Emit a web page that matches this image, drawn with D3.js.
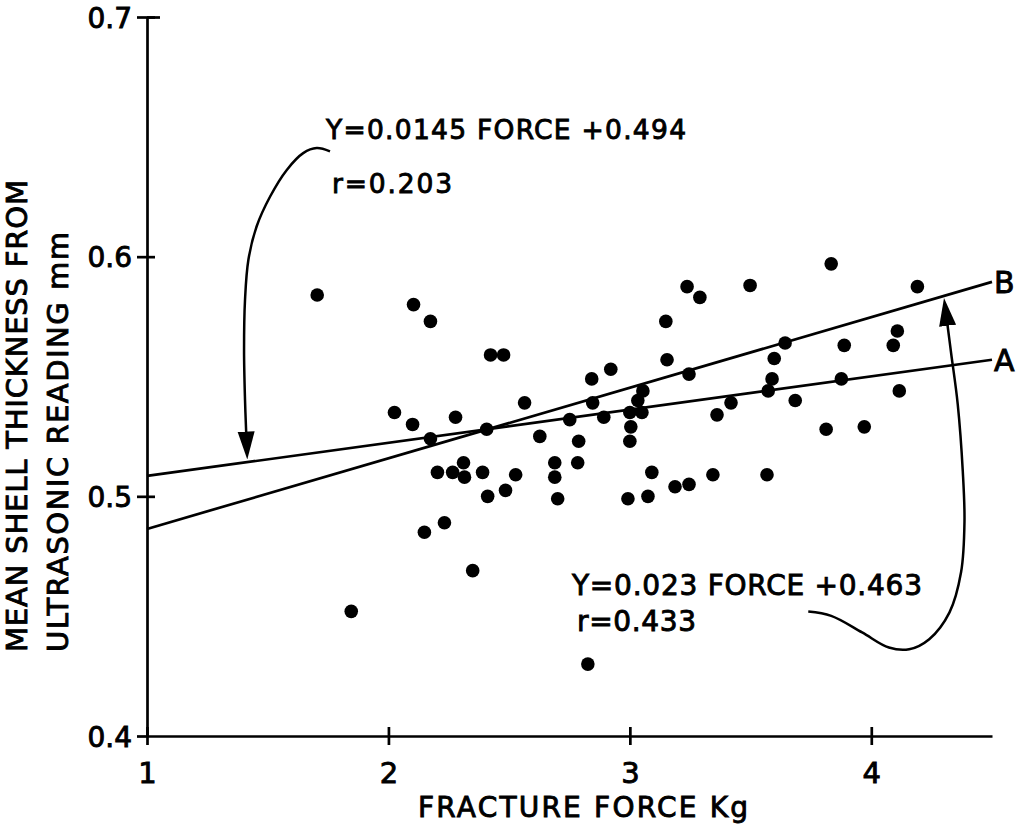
<!DOCTYPE html>
<html>
<head>
<meta charset="utf-8">
<script src="https://cdn.jsdelivr.net/npm/d3@7"></script>
<style>
  html, body { margin: 0; padding: 0; background: #fff; }
  svg { display: block; font-family: "DejaVu Sans", sans-serif; }
  .axis path, .axis line { stroke: #000; stroke-width: 2.7; }
  .axis text { fill: #000; stroke: #000; stroke-width: 0.9; font-family: "DejaVu Sans", sans-serif; }
  .fit { stroke: #000; stroke-width: 2.7; fill: none; }
  .arrow { stroke: #000; stroke-width: 2.5; fill: none; }
  .note { fill: #000; stroke: #000; stroke-width: 0.9; }
</style>
</head>
<body>
<div id="chart"></div>
<script>
// data
const xTicks = [1, 2, 3, 4];
const yTicks = [0.4, 0.5, 0.6, 0.7];

const force = [
  1.705, 2.104, 2.174, 2.423, 2.477, 2.025, 2.100, 2.278, 2.174, 2.407,
  2.311, 2.203, 2.266, 2.315, 2.390, 2.527, 2.485, 2.411, 2.232, 2.149,
  2.349, 1.846, 3.237, 3.290, 3.149, 3.154, 2.921, 2.842, 3.245, 3.054,
  3.033, 2.564, 2.846, 3.000, 3.050, 2.751, 2.892, 3.361, 3.004, 2.627,
  2.788, 3.000, 2.689, 2.784, 2.689, 2.701, 3.091, 2.992, 3.075, 3.187,
  3.245, 3.344, 2.826, 3.834, 3.498, 4.191, 3.643, 3.888, 4.108, 4.091,
  3.598, 3.589, 3.573, 3.876, 3.419, 3.685, 4.116, 3.813, 3.971, 3.568
];
const thickness = [
  0.584, 0.580, 0.573, 0.559, 0.559, 0.535, 0.530, 0.533, 0.524, 0.528,
  0.514, 0.510, 0.510, 0.508, 0.510, 0.509, 0.5025, 0.500, 0.489, 0.485,
  0.469, 0.452, 0.5875, 0.583, 0.573, 0.557, 0.553, 0.549, 0.551, 0.544,
  0.540, 0.539, 0.539, 0.535, 0.535, 0.532, 0.533, 0.534, 0.529, 0.525,
  0.523, 0.523, 0.514, 0.514, 0.508, 0.499, 0.510, 0.499, 0.500, 0.504,
  0.505, 0.509, 0.430, 0.597, 0.588, 0.5875, 0.564, 0.563, 0.569, 0.563,
  0.5575, 0.549, 0.544, 0.549, 0.539, 0.540, 0.544, 0.528, 0.529, 0.509
];

// regression lines as drawn
const lineA = [[1, 0.5085], [4.5, 0.557]];
const lineB = [[1, 0.4864], [4.5, 0.5895]];

// hand drawn pointer curves (data units)
const arrowA = [
  [1.758, 0.6439], [1.703, 0.6453], [1.647, 0.6432], [1.579, 0.6362],
  [1.510, 0.6251], [1.454, 0.6126], [1.420, 0.5987], [1.406, 0.5820],
  [1.402, 0.5611], [1.406, 0.5402], [1.411, 0.5262]
];
const arrowB = [
  [3.739, 0.4519], [3.834, 0.4501], [3.962, 0.4432], [4.073, 0.4369],
  [4.157, 0.4362], [4.240, 0.4404], [4.324, 0.4516], [4.372, 0.4684],
  [4.386, 0.4894], [4.379, 0.5104], [4.358, 0.5385], [4.331, 0.5595],
  [4.315, 0.5720]
];

const eqA = ['Y=0.0145 FORCE  +0.494', 'r=0.203'];
const eqB = ['Y=0.023 FORCE  +0.463', 'r=0.433'];
const xTitle = 'FRACTURE FORCE Kg';
const yTitle = ['MEAN SHELL  THICKNESS FROM', 'ULTRASONIC READING mm'];

const width = 1017,
      height = 833;

const xScale = d3.scaleLinear().domain([1, 4.5]).range([147, 992]);
const yScale = d3.scaleLinear().domain([0.4, 0.7]).range([736, 17]);

const $svg = d3.select('#chart').append('svg')
  .attr('width', width)
  .attr('height', height);

$svg.append('rect').attr('width', width).attr('height', height).attr('fill', '#fff');

const defs = $svg.append('defs');
defs.append('marker')
  .attr('id', 'head')
  .attr('markerUnits', 'userSpaceOnUse')
  .attr('viewBox', '0 -9 28 18')
  .attr('refX', 2)
  .attr('refY', 0)
  .attr('markerWidth', 28)
  .attr('markerHeight', 18)
  .attr('orient', 'auto')
  .append('path')
  .attr('d', 'M0,-8.5L28,0L0,8.5Z')
  .attr('fill', '#000');

// x axis: ticks cross the line
const $xAxis = $svg.append('g')
  .attr('class', 'axis')
  .attr('transform', `translate(0, ${yScale(0.4)})`);

$xAxis.call(d3.axisBottom(xScale)
  .tickValues(xTicks)
  .tickSizeInner(9)
  .tickSizeOuter(0)
  .tickPadding(17)
  .tickFormat(d3.format('d')));

$xAxis.selectAll('.tick text').attr('font-size', 29);

$xAxis.append('g')
  .call(d3.axisBottom(xScale).tickValues(xTicks).tickSize(-9).tickFormat(''))
  .call(g => g.select('.domain').remove());

// y axis
const $yAxis = $svg.append('g')
  .attr('class', 'axis')
  .attr('transform', `translate(${xScale(1)}, 0)`);

$yAxis.call(d3.axisLeft(yScale)
  .tickValues(yTicks)
  .tickSizeInner(10)
  .tickSizeOuter(0)
  .tickPadding(5)
  .tickFormat(d3.format('.1f')));

$yAxis.selectAll('.tick text').attr('dy', '0.36em').attr('font-size', 28);

$yAxis.append('g')
  .call(d3.axisRight(yScale).tickValues(yTicks.slice(1)).tickSize(8).tickFormat(''))
  .call(g => g.select('.domain').remove());

$yAxis.append('g')
  .call(d3.axisRight(yScale).tickValues([0.7]).tickSize(13).tickFormat(''))
  .call(g => g.select('.domain').remove());

$svg.selectAll('.axis .tick line').attr('stroke', '#000');

// titles
$svg.append('text')
  .attr('class', 'note')
  .attr('x', 418)
  .attr('y', 817)
  .attr('font-size', 28)
  .attr('textLength', 330)
  .text(xTitle);

$svg.selectAll('.ytitle')
  .data(yTitle)
  .enter()
  .append('text')
  .attr('class', 'note ytitle')
  .attr('transform', (d, i) => `translate(${i === 0 ? 27 : 68}, 652) rotate(-90)`)
  .attr('font-size', 29)
  .attr('textLength', (d, i) => i === 0 ? 472 : 420)
  .text(d => d);

// regression lines
const line = d3.line()
  .x(d => xScale(d[0]))
  .y(d => yScale(d[1]));

$svg.selectAll('.fit')
  .data([lineA, lineB])
  .enter()
  .append('path')
  .attr('class', 'fit')
  .attr('d', d => line(d));

$svg.selectAll('.fit-label')
  .data([['A', lineA], ['B', lineB]])
  .enter()
  .append('text')
  .attr('class', 'note')
  .attr('x', d => xScale(d[1][1][0]) + 2)
  .attr('y', d => yScale(d[1][1][1]) + 11)
  .attr('font-size', 30)
  .text(d => d[0]);

// points
$svg.selectAll('.dot')
  .data(force.map((f, i) => [f, thickness[i]]))
  .enter()
  .append('circle')
  .attr('class', 'dot')
  .attr('cx', d => xScale(d[0]))
  .attr('cy', d => yScale(d[1]))
  .attr('r', 6.8)
  .attr('fill', '#000');

// pointer curves
const curve = d3.line()
  .x(d => xScale(d[0]))
  .y(d => yScale(d[1]))
  .curve(d3.curveCatmullRom.alpha(0.5));

$svg.selectAll('.arrow')
  .data([arrowA, arrowB])
  .enter()
  .append('path')
  .attr('class', 'arrow')
  .attr('d', d => curve(d))
  .attr('marker-end', 'url(#head)');

// equations
$svg.append('text').attr('class', 'note')
  .attr('x', 326).attr('y', 139)
  .attr('font-size', 26.5)
  .attr('textLength', 360)
  .text(eqA[0]);

$svg.append('text').attr('class', 'note')
  .attr('x', 332).attr('y', 193)
  .attr('font-size', 26.5)
  .attr('textLength', 120)
  .text(eqA[1]);

$svg.append('text').attr('class', 'note')
  .attr('x', 572).attr('y', 595)
  .attr('font-size', 28)
  .attr('textLength', 350)
  .text(eqB[0]);

$svg.append('text').attr('class', 'note')
  .attr('x', 577).attr('y', 631)
  .attr('font-size', 28)
  .attr('textLength', 119)
  .text(eqB[1]);
</script>
</body>
</html>
